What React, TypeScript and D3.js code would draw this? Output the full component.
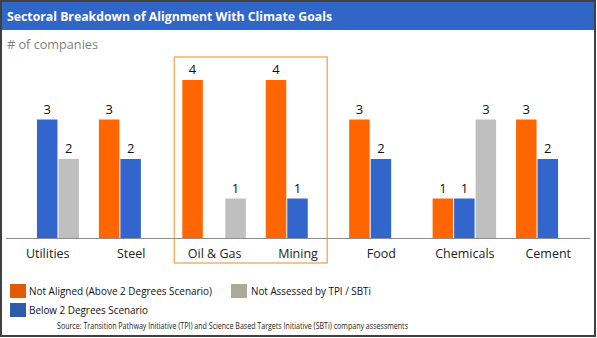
import React from "react";
import * as d3 from "d3";

const categories = ["Utilities", "Steel", "Oil & Gas", "Mining", "Food", "Chemicals", "Cement"];
const notAligned = [0, 3, 4, 4, 3, 1, 3];
const below2 = [3, 2, 0, 1, 2, 1, 2];
const notAssessed = [2, 0, 1, 0, 0, 3, 0];
const seriesNames = ["Not Aligned (Above 2 Degrees Scenario)", "Below 2 Degrees Scenario", "Not Assessed by TPI / SBTi"];
const seriesColors = ["#FF6600", "#3366CC", "#BFBFBF"];
const legendColors = ["#E35B00", "#2F5BA8", "#ADA99A"];
const highlighted = ["Oil & Gas", "Mining"];

const W = 597;
const H = 338;
const FONT = "'Open Sans', 'Noto Sans', sans-serif";

export default function App() {
  const series = [notAligned, below2, notAssessed];
  const x0 = d3.scaleBand<string>().domain(categories).range([6, 590]).paddingInner(0.227).paddingOuter(0.1135);
  const x1 = d3.scaleBand<number>().domain([0, 1, 2]).range([0, x0.bandwidth()]).padding(0);
  const y = d3.scaleLinear().domain([0, 4]).range([238, 80]);

  const hx0 = x0(highlighted[0])! - 8;
  const hx1 = x0(highlighted[1])! + x0.bandwidth() - 3;

  const bars: JSX.Element[] = [];
  categories.forEach((c, ci) => {
    series.forEach((s, si) => {
      const v = s[ci];
      if (!v) return;
      const bx = x0(c)! + x1(si)!;
      const bw = x1.bandwidth() - 1;
      bars.push(
        <g key={c + si}>
          <rect x={bx} y={y(v)} width={bw} height={y(0) - y(v)} fill={seriesColors[si]} />
          <text x={bx + bw / 2} y={y(v) - 6} textAnchor="middle" fontSize={13} fill="#111" fontFamily={FONT}>{v}</text>
        </g>
      );
    });
  });

  return (
    <svg width={W} height={H} style={{ position: "absolute", left: 0, top: 0 }}>
      <rect x={0} y={0} width={W} height={H} fill="#fff" />
      <rect x={2} y={2} width={592} height={28} fill="#3166C9" />
      <text x={7} y={20.5} fill="#fff" fontWeight="bold" fontSize={12.5} fontFamily={FONT} textLength={325} lengthAdjust="spacingAndGlyphs">
        Sectoral Breakdown of Alignment With Climate Goals
      </text>
      <text x={7} y={49} fill="#7F7F7F" fontSize={13} fontFamily={FONT} textLength={91} lengthAdjust="spacingAndGlyphs"># of companies</text>

      <rect x={hx0} y={57} width={hx1 - hx0} height={206} fill="none" stroke="#F3B169" strokeWidth={1.5} />

      {bars}
      <line x1={6} x2={590} y1={238.5} y2={238.5} stroke="#8C8C8C" strokeWidth={1} />
      {categories.map((c) => (
        <text key={c} x={x0(c)! + x0.bandwidth() / 2} y={258} textAnchor="middle" fontSize={12.5} fill="#222" fontFamily={FONT}>{c}</text>
      ))}

      {/* legend */}
      <rect x={10} y={284} width={16} height={14} fill={legendColors[0]} />
      <text x={29} y={295} fontSize={11.5} fill="#111" fontFamily={FONT} textLength={183} lengthAdjust="spacingAndGlyphs">{seriesNames[0]}</text>
      <rect x={231} y={284} width={16} height={14} fill={legendColors[2]} />
      <text x={251} y={295} fontSize={11.5} fill="#111" fontFamily={FONT} textLength={120} lengthAdjust="spacingAndGlyphs">{seriesNames[2]}</text>
      <rect x={10} y={303} width={16} height={14} fill={legendColors[1]} />
      <text x={29} y={314} fontSize={11.5} fill="#111" fontFamily={FONT} textLength={119} lengthAdjust="spacingAndGlyphs">{seriesNames[1]}</text>
      <text x={57} y={329} fontSize={8.5} fill="#222" fontFamily={FONT} textLength={351} lengthAdjust="spacingAndGlyphs">
        Source: Transition Pathway Initiative (TPI) and Science Based Targets Initiative (SBTi) company assessments
      </text>

      <rect x={1} y={1} width={594} height={335} fill="none" stroke="#404040" strokeWidth={2} />
    </svg>
  );
}
